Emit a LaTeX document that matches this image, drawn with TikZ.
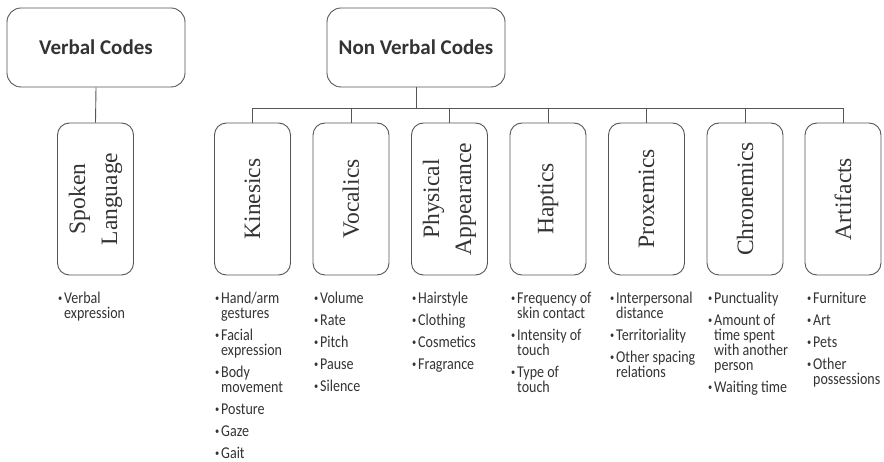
\documentclass[tikz,border=0pt]{standalone}
\usepackage{fontspec}
\setmainfont{Liberation Serif}
\newfontfamily\carl{Carlito}
\newfontfamily\carln[FakeStretch=0.85]{Carlito}
\definecolor{ink}{HTML}{333333}
\definecolor{edgec}{HTML}{555555}
\newcommand\bul{\makebox[6pt][l]{\raisebox{2.8pt}{\scalebox{0.6}{\textbullet}}}}
\newcommand\ind{\hspace*{6pt}}
\newcommand\gap{\cr\noalign{\vskip7pt}}
\newcommand\lst[1]{{\carln\fontsize{16.5}{15}\selectfont\lineskiplimit=-20pt\lineskip=0pt\vtop{\halign{##\hfil\cr#1\crcr}}}}
\tikzset{
  bigbox/.style={draw=edgec, line width=0.9pt, rounded corners=14pt, minimum width=178pt, minimum height=79pt, inner sep=0pt, text=ink, font=\carl\bfseries\fontsize{21}{24}\selectfont},
  catbox/.style={draw=edgec, line width=0.9pt, rounded corners=12pt, minimum width=76pt, minimum height=152pt, inner sep=0pt},
  vlab/.style={rotate=90, align=center, text=ink, inner sep=0pt, font=\fontsize{23.5}{32}\selectfont},
  blist/.style={anchor=base west, inner sep=0pt, text=ink},
  conn/.style={draw=edgec, line width=0.9pt}
}
\begin{document}
\begin{tikzpicture}[x=1pt,y=-1pt]
\useasboundingbox (0,0) rectangle (884,462);
% top boxes
\node[bigbox] (vc) at (96,47.5) {Verbal Codes};
\node[bigbox] (nv) at (416,47.5) {Non Verbal Codes};
% category boxes
\node[catbox] (sp) at (95.5,199) {};
\node[catbox] (ki) at (252.5,199) {};
\node[catbox] (vo) at (351,199) {};
\node[catbox] (pa) at (449.5,199) {};
\node[catbox] (ha) at (548,199) {};
\node[catbox] (pr) at (646.5,199) {};
\node[catbox] (ch) at (745,199) {};
\node[catbox] (ar) at (843,199) {};
% rotated labels
\node[vlab] (spl) at (sp) {Spoken\\Language};
\node[vlab] (kil) at (ki) {Kinesics};
\node[vlab] (vol) at (vo) {Vocalics};
\node[vlab] (pal) at (pa) {Physical\\Appearance};
\node[vlab] (hal) at (ha) {Haptics};
\node[vlab] (prl) at (pr) {Proxemics};
\node[vlab] (chl) at (ch) {Chronemics};
\node[vlab] (arl) at (ar) {Artifacts};
% connectors
\coordinate (bus) at (416,108);
\draw[conn] (vc.south) -- (sp.north);
\draw[conn] (nv.south) -- (bus);
\foreach \c in {ki,vo,pa,ha,pr,ch,ar}{
  \draw[conn] (\c.north) |- (bus);
}
% lists
\node[blist] (lsp) at (58,304) {\lst{\bul Verbal\cr\ind expression}};
\node[blist] (lki) at (215,304) {\lst{\bul Hand/arm\cr\ind gestures\gap\bul Facial\cr\ind expression\gap\bul Body\cr\ind movement\gap\bul Posture\gap\bul Gaze\gap\bul Gait}};
\node[blist] (lvo) at (314,304) {\lst{\bul Volume\gap\bul Rate\gap\bul Pitch\gap\bul Pause\gap\bul Silence}};
\node[blist] (lpa) at (412,304) {\lst{\bul Hairstyle\gap\bul Clothing\gap\bul Cosmetics\gap\bul Fragrance}};
\node[blist] (lha) at (511,304) {\lst{\bul Frequency of\cr\ind skin contact\gap\bul Intensity of\cr\ind touch\gap\bul Type of\cr\ind touch}};
\node[blist] (lpr) at (610,304) {\lst{\bul Interpersonal\cr\ind distance\gap\bul Territoriality\gap\bul Other spacing\cr\ind relations}};
\node[blist] (lch) at (708,304) {\lst{\bul Punctuality\gap\bul Amount of\cr\ind time spent\cr\ind with another\cr\ind person\gap\bul Waiting time}};
\node[blist] (lar) at (807,304) {\lst{\bul Furniture\gap\bul Art\gap\bul Pets\gap\bul Other\cr\ind possessions}};
\end{tikzpicture}
\end{document}
